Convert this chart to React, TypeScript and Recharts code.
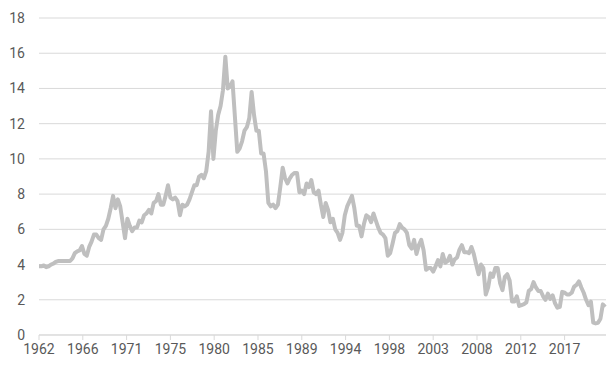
import React from 'react';
import { LineChart, Line, XAxis, YAxis, CartesianGrid } from 'recharts';

// quarter-end values (Mar, Jun, Sep, Dec), starting Mar 1962
const y1960s = [
  3.9, 3.9, 3.95, 3.85, 3.9, 4.0, 4.05, 4.15, 4.2, 4.2, 4.2, 4.2, 4.2, 4.2, 4.35, 4.65,
  4.75, 4.8, 5.05, 4.6, 4.5, 5.0, 5.3, 5.7, 5.7, 5.5, 5.4, 6.0, 6.2, 6.6, 7.2, 7.9,
];
const y1970s = [
  7.2, 7.7, 7.3, 6.4, 5.5, 6.6, 6.2, 5.9, 6.1, 6.1, 6.5, 6.4, 6.8, 6.9, 7.1, 6.9,
  7.5, 7.6, 8.0, 7.4, 7.4, 7.9, 8.5, 7.8, 7.7, 7.8, 7.6, 6.8, 7.4, 7.3, 7.4, 7.7,
  8.1, 8.5, 8.5, 9.0, 9.1, 8.9, 9.3, 10.4,
];
const y1980s = [
  12.7, 10.0, 11.6, 12.5, 13.0, 13.9, 15.8, 14.0, 14.1, 14.4, 12.4, 10.4, 10.6, 11.0, 11.6, 11.8,
  12.3, 13.8, 12.5, 11.6, 11.6, 10.3, 10.3, 9.3, 7.5, 7.3, 7.4, 7.2, 7.4, 8.4, 9.5, 8.9,
  8.6, 8.9, 9.1, 9.2, 9.2, 8.1, 8.2, 8.0,
];
const y1990s = [
  8.6, 8.4, 8.8, 8.1, 8.0, 8.2, 7.4, 6.7, 7.5, 7.1, 6.4, 6.6, 6.0, 5.8, 5.4, 5.8,
  6.8, 7.3, 7.6, 7.9, 7.2, 6.2, 6.2, 5.6, 6.3, 6.8, 6.7, 6.4, 6.9, 6.5, 6.1, 5.8,
  5.7, 5.5, 4.5, 4.65, 5.2, 5.8, 5.9, 6.3,
];
const y2000s = [
  6.1, 6.0, 5.8, 5.1, 4.9, 5.4, 4.6, 5.1, 5.4, 4.8, 3.7, 3.8, 3.8, 3.6, 3.9, 4.25,
  3.9, 4.6, 4.1, 4.2, 4.5, 4.0, 4.3, 4.4, 4.85, 5.1, 4.7, 4.7, 4.65, 5.0, 4.6, 4.0,
  3.45, 4.0, 3.8, 2.3, 2.7, 3.5, 3.3, 3.8,
];
const y2010s = [
  3.8, 2.95, 2.55, 3.3, 3.45, 3.1, 1.9, 1.9, 2.2, 1.65, 1.7, 1.75, 1.85, 2.5, 2.6, 3.0,
  2.7, 2.5, 2.5, 2.2, 2.0, 2.35, 2.05, 2.25, 1.8, 1.55, 1.6, 2.45, 2.4, 2.3, 2.3, 2.4,
  2.75, 2.85, 3.05, 2.7, 2.4, 2.0, 1.7, 1.9,
];
const y2020s = [0.7, 0.66, 0.69, 0.92, 1.74, 1.6];

const values = [...y1960s, ...y1970s, ...y1980s, ...y1990s, ...y2000s, ...y2010s, ...y2020s];
// m = months since Jan 1962
const data = values.map((v, i) => ({ m: 2 + 3 * i, v }));

const yTicks = [0, 2, 4, 6, 8, 10, 12, 14, 16, 18];
const xTicks = Array.from({ length: 13 }, (_, k) => 2 + 55 * k);

const tickStyle = { fontSize: 14, fill: '#595959', fontFamily: 'Roboto, sans-serif' };

export default function App() {
  return (
    <div style={{ position: 'absolute', left: 0, top: 0 }}>
      <LineChart width={611} height={366} data={data} margin={{ top: 18, right: 5, left: 0, bottom: 6 }}>
        <CartesianGrid vertical={false} stroke="#d9d9d9" strokeWidth={1} />
        <XAxis
          dataKey="m"
          type="number"
          domain={[2, 714]}
          ticks={xTicks}
          tickFormatter={(m: number) => String(1962 + Math.floor(m / 12))}
          tick={tickStyle}
          axisLine={{ stroke: '#d9d9d9' }}
          tickLine={{ stroke: '#d9d9d9' }}
          tickSize={5}
          tickMargin={4}
          height={25}
          interval={0}
        />
        <YAxis
          domain={[0, 18]}
          ticks={yTicks}
          tick={tickStyle}
          axisLine={false}
          tickLine={false}
          tickMargin={8}
          width={39}
          interval={0}
        />
        <Line
          type="linear"
          dataKey="v"
          stroke="#bfbfbf"
          strokeWidth={4}
          dot={false}
          strokeLinejoin="round"
          isAnimationActive={false}
        />
      </LineChart>
    </div>
  );
}
